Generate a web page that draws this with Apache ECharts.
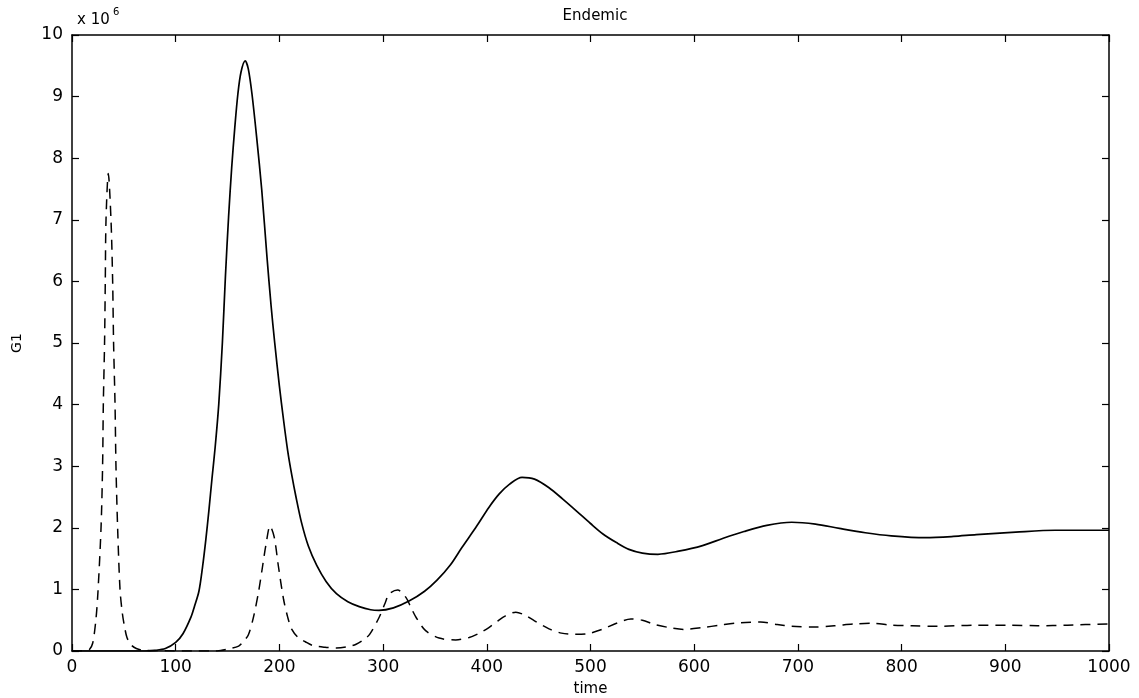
<!DOCTYPE html>
<html>
<head>
<meta charset="utf-8">
<title>Endemic</title>
<script src="https://cdn.jsdelivr.net/npm/echarts@6/dist/echarts.min.js"></script>
<style>
  html, body { margin: 0; padding: 0; background: #fff; }
  #main { width: 1139px; height: 698px; }
</style>
</head>
<body>
<div id="main"></div>
<script>
// G1 in units of 1e6
var solidT = [0, 70, 80, 90, 100, 107, 114.7, 118, 122.4, 126, 129, 132, 135, 138, 141.5, 145, 148, 151, 154, 157, 160, 163, 167, 170, 173.5, 178, 183, 188, 192, 195.5, 200, 204, 208, 212, 216, 221.4, 228, 236, 245, 255, 266, 277, 288, 296, 310, 325, 340, 352, 365, 376, 390, 402, 412, 422, 434, 446, 460, 473, 486, 500, 512, 525, 537, 550, 565, 585, 608, 628, 648, 670, 694, 717, 740, 765, 790, 823, 850, 872, 910, 948, 975, 1000];
var solidV = [0, 0, 0.01, 0.04, 0.14, 0.28, 0.55, 0.72, 0.97, 1.38, 1.8, 2.28, 2.8, 3.3, 4.0, 5.0, 6.1, 7.05, 7.85, 8.5, 9.05, 9.4, 9.58, 9.45, 9.05, 8.35, 7.48, 6.4, 5.6, 5.0, 4.3, 3.75, 3.25, 2.85, 2.5, 2.08, 1.7, 1.39, 1.13, 0.93, 0.8, 0.72, 0.67, 0.66, 0.7, 0.81, 0.97, 1.15, 1.4, 1.68, 2.02, 2.33, 2.55, 2.71, 2.82, 2.79, 2.65, 2.47, 2.28, 2.07, 1.9, 1.76, 1.65, 1.59, 1.57, 1.62, 1.71, 1.83, 1.94, 2.04, 2.09, 2.06, 1.99, 1.92, 1.87, 1.84, 1.86, 1.89, 1.93, 1.96, 1.96, 1.96];

var dashT = [0, 14, 17, 20, 23, 25, 28, 29.5, 30.2, 31.4, 32.1, 32.8, 35, 37.6, 39.2, 40.1, 41.5, 42.4, 44, 46.3, 48.5, 50.4, 53, 57, 62, 70, 140, 150, 160.7, 165, 170, 175, 180, 184, 187, 191, 195, 199, 204, 208, 212, 218, 225, 232, 244, 255, 266, 274, 281, 287, 296, 302, 306, 314, 322, 327, 332, 341, 354, 370, 383, 394, 402, 410, 418, 428, 437, 446, 460, 472, 485, 497, 511, 525, 539, 550, 562, 576, 590, 608, 625, 645, 664, 680, 694, 717, 735, 755, 773, 790, 810, 835, 872, 905, 931, 960, 1000];
var dashV = [0, 0.01, 0.03, 0.13, 0.5, 0.95, 2.0, 3.0, 4.0, 5.0, 6.0, 7.0, 7.75, 7.0, 6.0, 5.0, 4.0, 3.0, 2.0, 1.0, 0.62, 0.42, 0.22, 0.1, 0.04, 0.01, 0, 0.03, 0.08, 0.15, 0.26, 0.55, 0.97, 1.4, 1.72, 2.03, 1.85, 1.38, 0.84, 0.55, 0.35, 0.22, 0.15, 0.09, 0.06, 0.05, 0.07, 0.11, 0.18, 0.27, 0.54, 0.78, 0.93, 0.99, 0.87, 0.7, 0.54, 0.33, 0.21, 0.18, 0.22, 0.3, 0.38, 0.48, 0.57, 0.63, 0.58, 0.49, 0.36, 0.29, 0.27, 0.28, 0.35, 0.45, 0.52, 0.5, 0.43, 0.38, 0.35, 0.38, 0.42, 0.46, 0.47, 0.43, 0.40, 0.39, 0.41, 0.44, 0.45, 0.42, 0.41, 0.40, 0.42, 0.42, 0.41, 0.42, 0.44];

function pairs(t, v) {
    var out = [];
    for (var i = 0; i < t.length; i++) {
        out.push([t[i], v[i]]);
    }
    return out;
}

var font = 'DejaVu Sans, Liberation Sans, sans-serif';
var myChart = echarts.init(document.getElementById('main'));

var boxLine = { show: true, onZero: false, lineStyle: { color: '#000', width: 1.5 } };
var boxTick = { show: true, inside: true, length: 7, lineStyle: { color: '#000', width: 1.2 } };

option = {
    backgroundColor: '#fff',
    animation: false,
    title: {
        text: 'Endemic',
        left: 590,
        top: 4,
        textAlign: 'center',
        textStyle: { fontFamily: font, fontSize: 15, fontWeight: 'normal', color: '#000' }
    },
    graphic: [
        { type: 'text', left: 77, top: 13, style: { text: 'x 10', font: '15px ' + font, fill: '#000' } },
        { type: 'text', left: 113, top: 7, style: { text: '6', font: '10px ' + font, fill: '#000' } }
    ],
    grid: { left: 72, right: 30, top: 35, bottom: 47, containLabel: false, outerBoundsMode: 'none' },
    xAxis: [
        {
            type: 'value', min: 0, max: 1000, interval: 100,
            name: 'time', nameLocation: 'middle', nameGap: 31,
            nameTextStyle: { fontFamily: font, fontSize: 15, color: '#000' },
            axisLine: boxLine,
            axisTick: boxTick,
            axisLabel: { fontFamily: font, fontSize: 17, color: '#000', margin: 8, formatter: function (v) { return String(v); } },
            splitLine: { show: false }
        },
        {
            type: 'value', min: 0, max: 1000, interval: 100, position: 'top',
            axisLine: boxLine,
            axisTick: boxTick,
            axisLabel: { show: false },
            splitLine: { show: false }
        }
    ],
    yAxis: [
        {
            type: 'value', min: 0, max: 10, interval: 1,
            name: 'G1', nameLocation: 'middle', nameGap: 48, nameRotate: 90,
            nameTextStyle: { fontFamily: font, fontSize: 14, color: '#000' },
            axisLine: boxLine,
            axisTick: boxTick,
            axisLabel: { fontFamily: font, fontSize: 17, color: '#000', margin: 9 },
            splitLine: { show: false }
        },
        {
            type: 'value', min: 0, max: 10, interval: 1, position: 'right',
            axisLine: boxLine,
            axisTick: boxTick,
            axisLabel: { show: false },
            splitLine: { show: false }
        }
    ],
    series: [
        {
            name: 'solid',
            type: 'line',
            data: pairs(solidT, solidV),
            smooth: 0.3,
            symbol: 'none',
            lineStyle: { color: '#000', width: 1.7 }
        },
        {
            name: 'dashed',
            type: 'line',
            data: pairs(dashT, dashV),
            smooth: 0.3,
            symbol: 'none',
            lineStyle: { color: '#000', width: 1.5, type: [10, 7] }
        }
    ]
};

myChart.setOption(option);
</script>
</body>
</html>
